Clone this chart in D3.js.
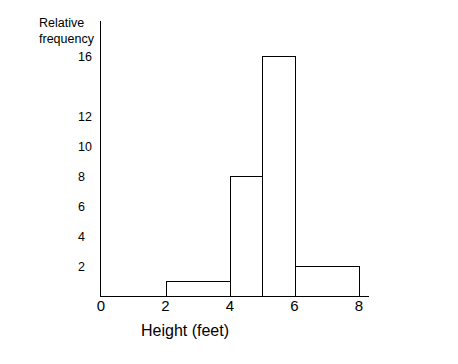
<!DOCTYPE html>
<html>
<head>
<meta charset="utf-8">
<script src="https://cdn.jsdelivr.net/npm/d3@7"></script>
<style>
  html, body { margin: 0; padding: 0; background: #fff; }
  svg { display: block; }
  text { font-family: "Liberation Sans", Arial, sans-serif; fill: #000; }
</style>
</head>
<body>
<svg id="chart" width="458" height="364"></svg>
<script>
// Data
const binStarts = [2, 4, 5, 6];
const binEnds   = [4, 5, 6, 8];
const frequencies = [1, 8, 16, 2];
const yTickValues = [2, 4, 6, 8, 10, 12, 16];
const xTickValues = [0, 2, 4, 6, 8];
const yTitleLines = ["Relative", "frequency"];
const xTitle = "Height (feet)";

const svg = d3.select("#chart");
const x = d3.scaleLinear().domain([0, 8]).range([101, 359]);
const y = d3.scaleLinear().domain([0, 16]).range([296, 56]);

// bars
const bins = binStarts.map((s, i) => ({ x0: s, x1: binEnds[i], v: frequencies[i] }));
svg.append("g").selectAll("rect").data(bins).join("rect")
  .attr("x", d => Math.round(x(d.x0)) + 0.5)
  .attr("y", d => Math.round(y(d.v)) + 0.5)
  .attr("width", d => Math.round(x(d.x1)) - Math.round(x(d.x0)))
  .attr("height", d => Math.round(y(0)) - Math.round(y(d.v)))
  .attr("fill", "#fff")
  .attr("stroke", "#000")
  .attr("stroke-width", 1.5)
  .attr("shape-rendering", "crispEdges");

// axes lines
svg.append("line")
  .attr("x1", 100.5).attr("x2", 100.5)
  .attr("y1", 21).attr("y2", Math.round(y(0)) + 1)
  .attr("stroke", "#000").attr("stroke-width", 1.5).attr("shape-rendering", "crispEdges");
svg.append("line")
  .attr("x1", 100).attr("x2", 369)
  .attr("y1", Math.round(y(0)) + 0.5).attr("y2", Math.round(y(0)) + 0.5)
  .attr("stroke", "#000").attr("stroke-width", 1.5).attr("shape-rendering", "crispEdges");

// y tick labels (left aligned)
svg.append("g").selectAll("text").data(yTickValues).join("text")
  .attr("x", 78)
  .attr("y", d => y(d) + 4.5)
  .attr("font-size", 12.5)
  .text(d => d);

// x tick labels
svg.append("g").selectAll("text").data(xTickValues).join("text")
  .attr("x", d => x(d))
  .attr("y", 311)
  .attr("text-anchor", "middle")
  .attr("font-size", 15)
  .text(d => d);

// titles
svg.append("g").selectAll("text").data(yTitleLines).join("text")
  .attr("x", 39)
  .attr("y", (d, i) => 27 + i * 16)
  .attr("font-size", 12.5)
  .text(d => d);

svg.append("text")
  .attr("x", 141)
  .attr("y", 335.5)
  .attr("font-size", 16)
  .text(xTitle);
</script>
</body>
</html>
